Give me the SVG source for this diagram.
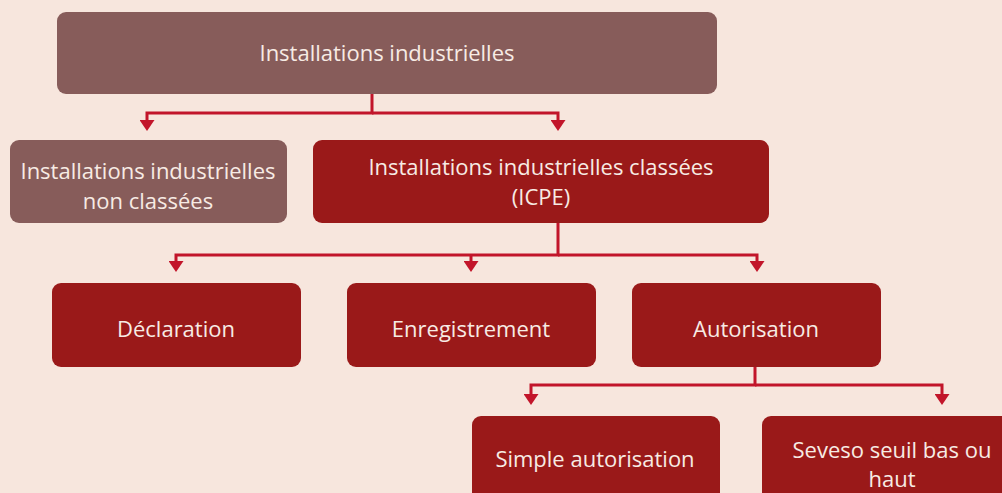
<svg xmlns="http://www.w3.org/2000/svg" width="1002" height="493" viewBox="0 0 1002 493">
<style>
.bg{fill:#f7e6dd}
.grey{fill:#875c5a}
.red{fill:#9a1919}
.t{fill:#f7ebe4;font-family:"Open Sans","Liberation Sans",sans-serif;font-size:22px;text-anchor:middle}
.c{fill:none;stroke:#c2152a;stroke-width:3;stroke-linejoin:miter}
</style>
<defs>
<marker id="ah" markerUnits="userSpaceOnUse" viewBox="0 0 11 15" markerWidth="11" markerHeight="15" refX="0" refY="7.5" orient="auto">
<path d="M0,0 L11,7.5 L0,15 z" fill="#c2152a"/>
</marker>
</defs>
<rect class="bg" x="0" y="0" width="1002" height="493"/>
<g id="connectors">
<path class="c" d="M372,94 V113 H147 V120" marker-end="url(#ah)"/>
<path class="c" d="M372,113 H558 V120" marker-end="url(#ah)"/>
<path class="c" d="M558,223 V255 H176 V261" marker-end="url(#ah)"/>
<path class="c" d="M471,255 V261" marker-end="url(#ah)"/>
<path class="c" d="M558,255 H757 V261" marker-end="url(#ah)"/>
<path class="c" d="M755,367 V385 H531 V394" marker-end="url(#ah)"/>
<path class="c" d="M755,385 H942 V394" marker-end="url(#ah)"/>
</g>
<g id="n-top">
<rect class="grey" x="57" y="12" width="660" height="82" rx="9"/>
<text class="t" x="387" y="61">Installations industrielles</text>
</g>
<g id="n-nonclassees">
<rect class="grey" x="10" y="140" width="277" height="83" rx="9"/>
<text class="t" x="148" y="179">Installations industrielles</text>
<text class="t" x="148" y="209">non classées</text>
</g>
<g id="n-icpe">
<rect class="red" x="313" y="140" width="456" height="83" rx="9"/>
<text class="t" x="541" y="175">Installations industrielles classées</text>
<text class="t" x="541" y="205">(ICPE)</text>
</g>
<g id="n-declaration">
<rect class="red" x="52" y="283" width="249" height="84" rx="9"/>
<text class="t" x="176" y="337">Déclaration</text>
</g>
<g id="n-enregistrement">
<rect class="red" x="347" y="283" width="249" height="84" rx="9"/>
<text class="t" x="471" y="337">Enregistrement</text>
</g>
<g id="n-autorisation">
<rect class="red" x="632" y="283" width="249" height="84" rx="9"/>
<text class="t" x="756" y="337">Autorisation</text>
</g>
<g id="n-simple">
<rect class="red" x="472" y="416" width="248" height="90" rx="9"/>
<text class="t" x="595" y="467">Simple autorisation</text>
</g>
<g id="n-seveso">
<rect class="red" x="762" y="416" width="260" height="90" rx="9"/>
<text class="t" x="892" y="458">Seveso seuil bas ou</text>
<text class="t" x="892" y="487">haut</text>
</g>
</svg>
